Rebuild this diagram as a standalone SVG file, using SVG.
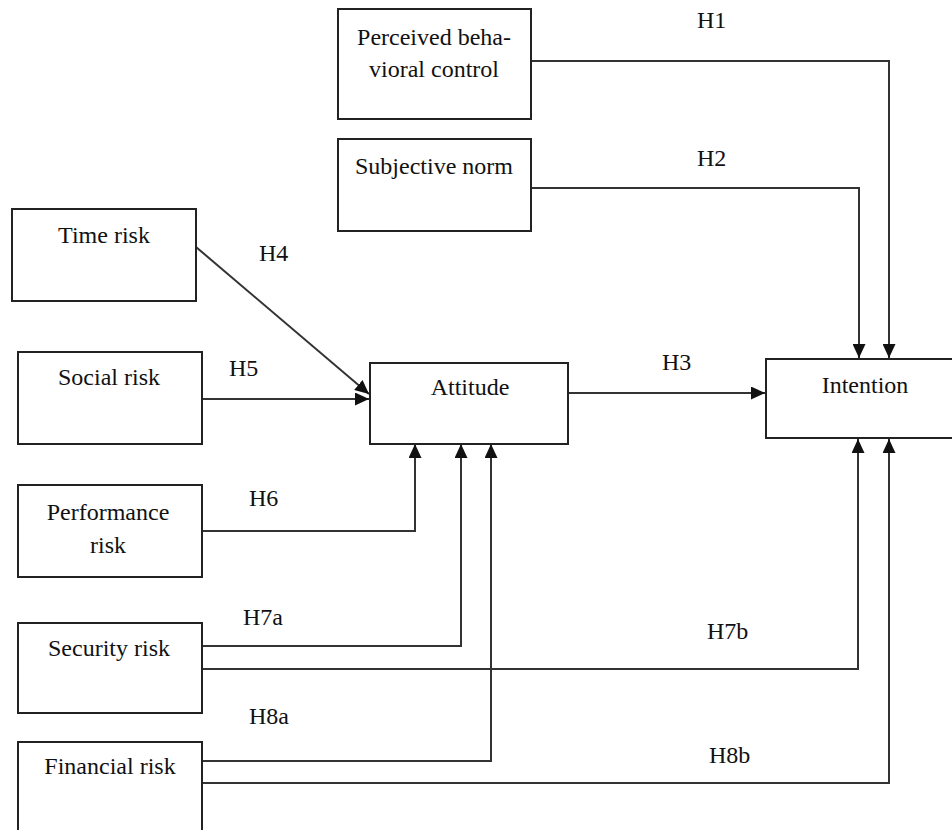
<svg xmlns="http://www.w3.org/2000/svg" width="952" height="830" viewBox="0 0 952 830">
<style>
.box{fill:#fff;stroke:#222;stroke-width:2}
.t{font-family:"Liberation Serif","Times New Roman",serif;font-size:24px;fill:#111;text-anchor:middle}
.l{font-family:"Liberation Serif","Times New Roman",serif;font-size:24px;fill:#111}
.c{fill:none;stroke:#333;stroke-width:2;marker-end:url(#ah)}
</style>
<defs>
<marker id="ah" markerUnits="userSpaceOnUse" markerWidth="14" markerHeight="13" refX="14" refY="6.5" orient="auto">
<path d="M0,0 L14,6.5 L0,13 z" fill="#111"/>
</marker>
</defs>
<rect width="952" height="830" fill="#fff"/>
<g id="connectors">
<path class="c" d="M531,61 H889 V358"/>
<path class="c" d="M531,188 H859 V358"/>
<path class="c" d="M568,393 H765"/>
<path class="c" d="M196,247 L369,394"/>
<path class="c" d="M202,399 H369"/>
<path class="c" d="M202,531 H415 V444"/>
<path class="c" d="M202,646 H461 V444"/>
<path class="c" d="M202,669 H858 V439"/>
<path class="c" d="M202,761 H491 V444"/>
<path class="c" d="M202,783 H889 V439"/>
</g>
<g id="labels">
<text class="l" x="697" y="28">H1</text>
<text class="l" x="697" y="166">H2</text>
<text class="l" x="662" y="370">H3</text>
<text class="l" x="259" y="261">H4</text>
<text class="l" x="229" y="376">H5</text>
<text class="l" x="249" y="506">H6</text>
<text class="l" x="243" y="625">H7a</text>
<text class="l" x="707" y="639">H7b</text>
<text class="l" x="249" y="724">H8a</text>
<text class="l" x="709" y="763">H8b</text>
</g>
<g id="perceived">
<rect class="box" x="338" y="9" width="193" height="110"/>
<text class="t" x="434" y="45">Perceived beha-</text>
<text class="t" x="434" y="77">vioral control</text>
</g>
<g id="subjective">
<rect class="box" x="338" y="139" width="193" height="92"/>
<text class="t" x="434" y="174">Subjective norm</text>
</g>
<g id="time">
<rect class="box" x="12" y="209" width="184" height="92"/>
<text class="t" x="104" y="243">Time risk</text>
</g>
<g id="social">
<rect class="box" x="18" y="352" width="184" height="92"/>
<text class="t" x="109" y="385">Social risk</text>
</g>
<g id="attitude">
<rect class="box" x="370" y="363" width="198" height="81"/>
<text class="t" x="470" y="395">Attitude</text>
</g>
<g id="intention">
<rect class="box" x="766" y="359" width="194" height="79"/>
<text class="t" x="865" y="393">Intention</text>
</g>
<g id="performance">
<rect class="box" x="18" y="485" width="184" height="92"/>
<text class="t" x="108" y="520">Performance</text>
<text class="t" x="108" y="553">risk</text>
</g>
<g id="security">
<rect class="box" x="18" y="623" width="184" height="90"/>
<text class="t" x="109" y="656">Security risk</text>
</g>
<g id="financial">
<rect class="box" x="18" y="742" width="184" height="100"/>
<text class="t" x="110" y="774">Financial risk</text>
</g>
</svg>
